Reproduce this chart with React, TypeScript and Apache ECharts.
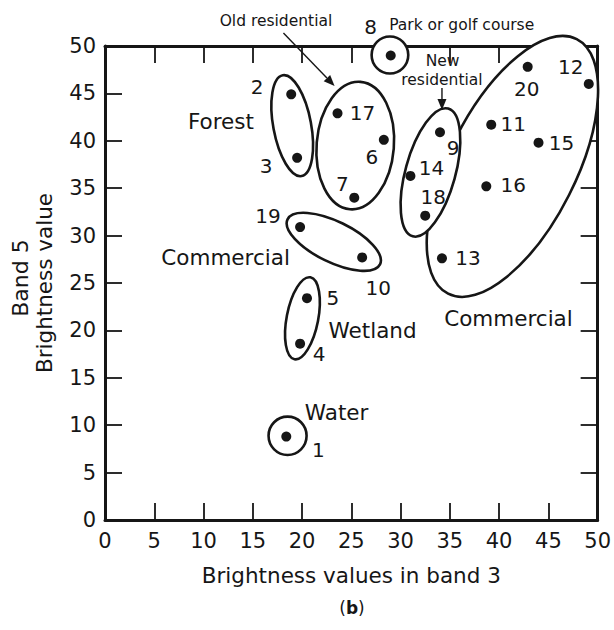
import { useEffect, useRef } from "react";
import * as echarts from "echarts";

// Sample pixels: id, brightness in band 3 (x) and band 5 (y)
const pointIds = [1, 2, 3, 4, 5, 6, 7, 8, 9, 10, 11, 12, 13, 14, 15, 16, 17, 18, 19, 20];
const band3Values = [18.4, 18.9, 19.5, 19.8, 20.5, 28.3, 25.3, 29.0, 34.0, 26.1, 39.2, 49.1, 34.2, 31.0, 44.0, 38.7, 23.6, 32.5, 19.8, 42.9];
const band5Values = [8.8, 44.9, 38.2, 18.6, 23.4, 40.1, 34.0, 49.0, 40.9, 27.7, 41.7, 46.0, 27.6, 36.3, 39.8, 35.2, 42.9, 32.1, 30.9, 47.8];

// Axis range shared by both bands
const axisMin = 0;
const axisMax = 50;
const axisStep = 5;

// Land-cover class outlines in data space:
// centre band 3, centre band 5, half-axis (band-3 units), half-axis (band-5 units), tilt (degrees)
const outlineNames = ["Commercial", "New residential", "Old residential", "Forest", "Commercial", "Wetland", "Water", "Park or golf course"];
const outlineCx = [41.35, 33.03, 25.4, 19.0, 23.22, 20.04, 18.53, 28.92];
const outlineCy = [37.3, 36.66, 39.5, 41.6, 29.34, 21.28, 8.88, 49.05];
const outlineRx = [14.47, 2.53, 3.92, 1.92, 5.22, 1.6, 1.93, 1.86];
const outlineRy = [6.69, 6.99, 6.74, 5.41, 2.15, 4.4, 2.02, 1.95];
const outlineTilt = [63.2, -15.5, -4.7, 10.6, -26, -11, 0, 0];

// Class names written beside their groups
const classNames = ["Forest", "Commercial", "Wetland", "Water", "Commercial"];
const classNameX = [11.77, 12.24, 27.16, 23.51, 40.95];
const classNameY = [42.04, 27.64, 19.94, 11.34, 21.26];

// Smaller call-out notes above the plot
const noteTexts = ["Old residential", "Park or golf course", "New", "residential"];
const noteX = [17.35, 36.2, 34.26, 34.2];
const noteY = [52.6, 52.2, 48.4, 46.4];

// Call-out arrows: from (x, y) to (x, y)
const arrowFromX = [18.11, 34.2];
const arrowFromY = [51.37, 45.57];
const arrowToX = [23.3, 34.2];
const arrowToY = [45.78, 43.25];

// Where each point's number sits relative to its dot (px)
const pointLabelOffsets: Record<number, [number, number]> = {
  1: [32, 13], 2: [-34, -7], 3: [-31, 8], 4: [19, 10], 5: [26, 0],
  6: [-12, 17], 7: [-12, -14], 8: [-20, -28], 9: [13, 16], 10: [16, 31],
  11: [22, -1], 12: [-18, -17], 13: [26, 0], 14: [21, -8], 15: [23, 0],
  16: [27, -1], 17: [25, 0], 18: [8, -19], 19: [-32, -11], 20: [-1, 22],
};

const FONT = "DejaVu Sans";
const INK = "#161616";

export default function App() {
  const ref = useRef<HTMLDivElement>(null);

  useEffect(() => {
    document.body.style.margin = "0";
    const chart = echarts.init(ref.current!, undefined, { renderer: "svg" });

    const axisBase = {
      type: "value" as const,
      min: axisMin,
      max: axisMax,
      interval: axisStep,
      axisLine: { show: true, onZero: false, lineStyle: { color: INK, width: 3 } },
      axisTick: { show: true, inside: true, length: 17, lineStyle: { color: INK, width: 1.8 } },
      splitLine: { show: false },
    };

    const option: any = {
      animation: false,
      backgroundColor: "#ffffff",
      grid: { left: 105, right: 12, top: 46, bottom: 110, containLabel: false },
      xAxis: [
        {
          ...axisBase,
          position: "bottom",
          axisLabel: { fontSize: 21, margin: 10, color: INK, fontFamily: FONT },
          name: "Brightness values in band 3",
          nameLocation: "middle",
          nameGap: 44,
          nameTextStyle: { fontSize: 21.5, color: INK, fontFamily: FONT },
        },
        { ...axisBase, position: "top", axisLabel: { show: false } },
      ],
      yAxis: [
        {
          ...axisBase,
          position: "left",
          axisLabel: { fontSize: 21, margin: 9, color: INK, fontFamily: FONT },
        },
        { ...axisBase, position: "right", axisLabel: { show: false } },
      ],
      graphic: [
        {
          type: "text",
          x: 20,
          y: 278,
          rotation: Math.PI / 2,
          style: { text: "Band 5", fontSize: 22, fontFamily: FONT, fill: INK, align: "center", verticalAlign: "middle" },
        },
        {
          type: "text",
          x: 44,
          y: 283,
          rotation: Math.PI / 2,
          style: { text: "Brightness value", fontSize: 21.5, fontFamily: FONT, fill: INK, align: "center", verticalAlign: "middle" },
        },
        {
          type: "text",
          x: 352,
          y: 608,
          style: {
            text: "({b|b})",
            fontSize: 17,
            fontFamily: FONT,
            fill: INK,
            align: "center",
            verticalAlign: "middle",
            rich: { b: { fontSize: 17, fontWeight: "bold", fontFamily: FONT, fill: INK } },
          },
        },
      ],
      series: [
        {
          type: "custom",
          name: "Class outlines",
          z: 2,
          clip: false,
          data: outlineCx.map((cx, i) => ({
            name: outlineNames[i],
            value: [cx, outlineCy[i], outlineRx[i], outlineRy[i], outlineTilt[i]],
          })),
          renderItem: (_params: any, api: any) => {
            const c = api.coord([api.value(0), api.value(1)]);
            const s = api.size([api.value(2), api.value(3)]);
            return {
              type: "ellipse",
              x: c[0],
              y: c[1],
              rotation: (api.value(4) * Math.PI) / 180,
              shape: { cx: 0, cy: 0, rx: s[0], ry: s[1] },
              style: { fill: "#ffffff", stroke: INK, lineWidth: 2.6 },
            };
          },
        },
        {
          type: "custom",
          name: "Arrows",
          z: 3,
          clip: false,
          data: arrowFromX.map((x, i) => [x, arrowFromY[i], arrowToX[i], arrowToY[i]]),
          renderItem: (_params: any, api: any) => {
            const p0 = api.coord([api.value(0), api.value(1)]);
            const p1 = api.coord([api.value(2), api.value(3)]);
            const a = Math.atan2(p1[1] - p0[1], p1[0] - p0[0]);
            const len = 11;
            const half = 4.5;
            const bx = p1[0] - len * Math.cos(a);
            const by = p1[1] - len * Math.sin(a);
            return {
              type: "group",
              children: [
                {
                  type: "line",
                  shape: { x1: p0[0], y1: p0[1], x2: bx, y2: by },
                  style: { stroke: INK, lineWidth: 1.4 },
                },
                {
                  type: "polygon",
                  shape: {
                    points: [
                      [p1[0], p1[1]],
                      [bx + half * Math.sin(a), by - half * Math.cos(a)],
                      [bx - half * Math.sin(a), by + half * Math.cos(a)],
                    ],
                  },
                  style: { fill: INK },
                },
              ],
            };
          },
        },
        {
          type: "scatter",
          name: "Pixels",
          z: 4,
          symbol: "circle",
          symbolSize: 10,
          itemStyle: { color: INK, opacity: 1 },
          label: {
            show: true,
            position: "inside",
            formatter: "{b}",
            fontSize: 20,
            fontFamily: FONT,
            color: INK,
            opacity: 1,
          },
          data: pointIds.map((id, i) => ({
            name: String(id),
            value: [band3Values[i], band5Values[i]],
            label: { offset: pointLabelOffsets[id] },
          })),
        },
        {
          type: "custom",
          name: "Class names",
          z: 5,
          clip: false,
          data: classNameX.map((x, i) => ({ name: classNames[i], value: [x, classNameY[i]] })),
          renderItem: (params: any, api: any) => {
            const c = api.coord([api.value(0), api.value(1)]);
            return {
              type: "text",
              x: c[0],
              y: c[1],
              style: {
                text: classNames[params.dataIndex],
                fontSize: 21.5,
                fontFamily: FONT,
                fill: INK,
                align: "center",
                verticalAlign: "middle",
              },
            };
          },
        },
        {
          type: "custom",
          name: "Notes",
          z: 5,
          clip: false,
          data: noteX.map((x, i) => ({ name: noteTexts[i], value: [x, noteY[i]] })),
          renderItem: (params: any, api: any) => {
            const c = api.coord([api.value(0), api.value(1)]);
            return {
              type: "text",
              x: c[0],
              y: c[1],
              style: {
                text: noteTexts[params.dataIndex],
                fontSize: 15.5,
                fontFamily: FONT,
                fill: INK,
                align: "center",
                verticalAlign: "middle",
              },
            };
          },
        },
      ],
    };

    chart.setOption(option);
    return () => chart.dispose();
  }, []);

  return <div ref={ref} style={{ width: 614, height: 630 }} />;
}
